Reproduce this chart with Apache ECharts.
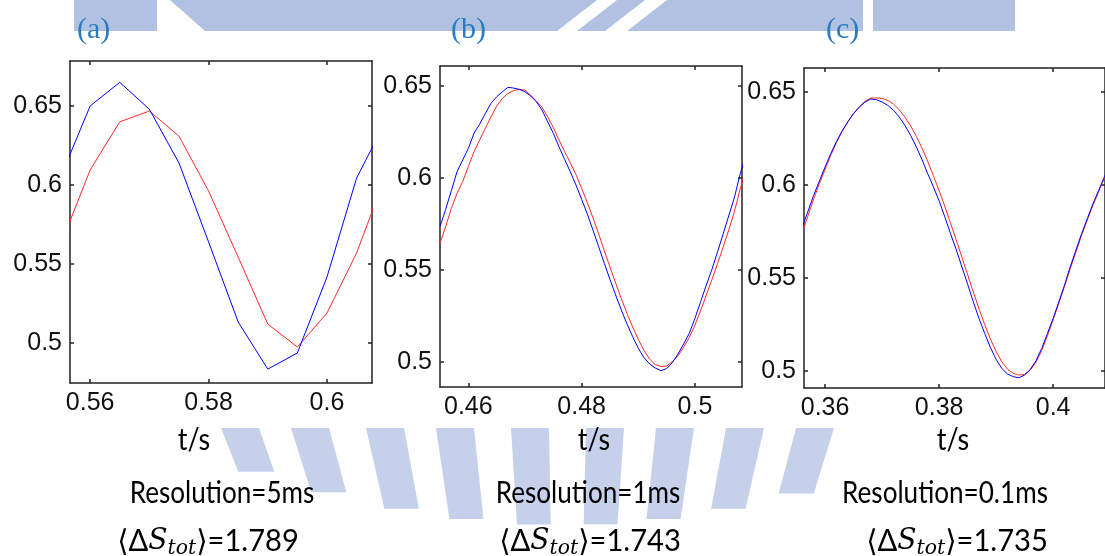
<!DOCTYPE html>
<html><head><meta charset="utf-8">
<script src="https://cdn.jsdelivr.net/npm/echarts@6/dist/echarts.min.js"></script>
<style>html,body{margin:0;padding:0;background:#fff}#c{width:1105px;height:556px}</style>
</head><body><div id="c"></div>
<script>
// ---------- data ----------
const panelLabels = ['(a)', '(b)', '(c)'];
const xName = 't/s';
const resolutions = ['Resolution=5ms', 'Resolution=1ms', 'Resolution=0.1ms'];
const entropyValues = ['1.789', '1.743', '1.735'];
const yTicks = [0.5, 0.55, 0.6, 0.65];
const xTicksA = [0.56, 0.58, 0.6];
const xTicksB = [0.46, 0.48, 0.5];
const xTicksC = [0.36, 0.38, 0.4];

const tA = [0.555, 0.56, 0.565, 0.57, 0.575, 0.58, 0.585, 0.59, 0.595, 0.6, 0.605, 0.61];
const blueA = [0.605, 0.650, 0.665, 0.648, 0.614, 0.564, 0.5133, 0.4835, 0.4937, 0.5418, 0.6044, 0.641];
const redA = [0.562, 0.6095, 0.640, 0.6468, 0.631, 0.5962, 0.5544, 0.512, 0.4975, 0.519, 0.557, 0.607];

const tB = [0.455,0.456,0.457,0.458,0.459,0.460,0.461,0.462,0.463,0.464,0.465,0.466,0.467,0.468,0.469,0.470,0.471,0.472,0.473,0.474,0.475,0.476,0.477,0.478,0.479,0.480,0.481,0.482,0.483,0.484,0.485,0.486,0.487,0.488,0.489,0.490,0.491,0.492,0.493,0.494,0.495,0.496,0.497,0.498,0.499,0.500,0.501,0.502,0.503,0.504,0.505,0.506,0.507,0.508,0.509];
const blueB = [0.5736,0.5830,0.5931,0.6034,0.6098,0.6161,0.6243,0.6293,0.6351,0.6406,0.6442,0.6469,0.6493,0.6489,0.6482,0.6469,0.6446,0.6415,0.6370,0.6306,0.6243,0.6170,0.6101,0.6034,0.5962,0.5884,0.5804,0.5717,0.5627,0.5536,0.5449,0.5364,0.5283,0.5207,0.5138,0.5074,0.5024,0.4989,0.4967,0.4953,0.4964,0.4996,0.5043,0.5098,0.5156,0.5237,0.5328,0.5418,0.5504,0.5600,0.5699,0.5799,0.5899,0.6025,0.6125];
const redB = [0.5645,0.5736,0.5835,0.5917,0.5980,0.6062,0.6143,0.6207,0.6270,0.6333,0.6391,0.6433,0.6460,0.6475,0.6482,0.6478,0.6451,0.6418,0.6384,0.6333,0.6274,0.6207,0.6143,0.6083,0.6018,0.5944,0.5866,0.5784,0.5696,0.5605,0.5516,0.5429,0.5344,0.5264,0.5190,0.5123,0.5063,0.5016,0.4986,0.4975,0.4978,0.5002,0.5033,0.5080,0.5134,0.5201,0.5279,0.5364,0.5449,0.5536,0.5627,0.5721,0.5822,0.5944,0.6043];

const tC = [0.356,0.357,0.358,0.359,0.360,0.361,0.362,0.363,0.364,0.365,0.366,0.367,0.368,0.369,0.370,0.371,0.372,0.373,0.374,0.375,0.376,0.377,0.378,0.379,0.380,0.381,0.382,0.383,0.384,0.385,0.386,0.387,0.388,0.389,0.390,0.391,0.392,0.393,0.394,0.395,0.396,0.397,0.398,0.399,0.400,0.401,0.402,0.403,0.404,0.405,0.406,0.407,0.408,0.409,0.410];
const blueC = [0.5775,0.5859,0.5945,0.6022,0.6097,0.6169,0.6235,0.6291,0.6341,0.6384,0.6419,0.6446,0.6462,0.6459,0.6446,0.6428,0.6402,0.6366,0.6321,0.6267,0.6205,0.6137,0.6061,0.5990,0.5915,0.5829,0.5739,0.5653,0.5560,0.5467,0.5372,0.5283,0.5202,0.5127,0.5063,0.5014,0.4984,0.4970,0.4964,0.4979,0.5009,0.5056,0.5122,0.5202,0.5283,0.5372,0.5462,0.5560,0.5650,0.5739,0.5820,0.5900,0.5972,0.6044,0.6115];
const redC = [0.5745,0.5835,0.5925,0.6008,0.6085,0.6160,0.6228,0.6288,0.6340,0.6385,0.6420,0.6450,0.6467,0.6468,0.6466,0.6455,0.6435,0.6405,0.6365,0.6318,0.6262,0.6198,0.6127,0.6050,0.5970,0.5885,0.5795,0.5705,0.5612,0.5518,0.5425,0.5335,0.5250,0.5172,0.5105,0.5050,0.5010,0.4988,0.4979,0.4982,0.5005,0.5048,0.5110,0.5190,0.5275,0.5365,0.5455,0.5550,0.5640,0.5730,0.5812,0.5892,0.5965,0.6038,0.6110];

// ---------- layout ----------
const panels = [
  {grid:{left:70, top:61, width:302, height:322}, x:[0.5566,0.6076], y:[0.4747,0.6785], xt:xTicksA, t:tA, b:blueA, r:redA},
  {grid:{left:440, top:66, width:302, height:321}, x:[0.4550,0.5083], y:[0.4864,0.6609], xt:xTicksB, t:tB, b:blueB, r:redB},
  {grid:{left:804, top:68, width:302, height:320}, x:[0.3563,0.4091], y:[0.4909,0.6629], xt:xTicksC, t:tC, b:blueC, r:redC}
];
const axisColor = '#222';
const fmt = v => String(parseFloat((+v).toFixed(4)));
const lineS = {color:axisColor, width:1.5};
const tickFont = 'Liberation Sans, Arial, sans-serif';

const grids=[], xAxes=[], yAxes=[], series=[];
panels.forEach((p,i)=>{
  grids.push(p.grid);
  const base = {gridIndex:i, type:'value', min:p.x[0], max:p.x[1], splitLine:{show:false},
    axisLine:{show:true, onZero:false, lineStyle:lineS}};
  xAxes.push(Object.assign({}, base, {position:'bottom',
    axisTick:{show:true, inside:true, length:4, customValues:p.xt, lineStyle:lineS},
    axisLabel:{show:true, customValues:p.xt, formatter:fmt, fontSize:25, fontFamily:tickFont, color:'#111', margin:8}}));
  xAxes.push(Object.assign({}, base, {position:'top',
    axisTick:{show:true, inside:true, length:4, customValues:p.xt, lineStyle:lineS},
    axisLabel:{show:false}}));
  const ybase = {gridIndex:i, type:'value', min:p.y[0], max:p.y[1], splitLine:{show:false},
    axisLine:{show:true, onZero:false, lineStyle:lineS}};
  yAxes.push(Object.assign({}, ybase, {position:'left',
    axisTick:{show:true, inside:true, length:4, customValues:yTicks, lineStyle:lineS},
    axisLabel:{show:true, customValues:yTicks, formatter:fmt, fontSize:25, fontFamily:tickFont, color:'#111', margin:8}}));
  yAxes.push(Object.assign({}, ybase, {position:'right',
    axisTick:{show:true, inside:true, length:4, customValues:yTicks, lineStyle:lineS},
    axisLabel:{show:false}}));
  series.push({type:'line', xAxisIndex:2*i, yAxisIndex:2*i, showSymbol:false, clip:true, z:3,
    lineStyle:{color:'#ff2a2a', width:1}, itemStyle:{color:'#ff2a2a'},
    data:p.t.map((t,k)=>[t,p.r[k]])});
  series.push({type:'line', xAxisIndex:2*i, yAxisIndex:2*i, showSymbol:false, clip:true, z:4,
    lineStyle:{color:'#0000ff', width:1}, itemStyle:{color:'#0000ff'},
    data:p.t.map((t,k)=>[t,p.b[k]])});
});

// ---------- decorations (background watermark + captions) ----------
const wm = '#b1c1e1';
const wm2 = '#c6d0ea';
const graphics = [
  {type:'rect', z:-10, shape:{x:74, y:0, width:941, height:31}, style:{fill:wm}},
  {type:'polygon', z:-9, shape:{points:[[157,0],[170,0],[205,31],[157,31]]}, style:{fill:'#ffffff'}},
  {type:'polygon', z:-9, shape:{points:[[597,0],[617,0],[577,31],[557,31]]}, style:{fill:'#ffffff'}},
  {type:'polygon', z:-9, shape:{points:[[645,0],[667,0],[627,31],[605,31]]}, style:{fill:'#ffffff'}},
  {type:'rect', z:-9, shape:{x:863, y:0, width:10, height:31}, style:{fill:'#ffffff'}}
];
// faint fan of bars of the background emblem, below the plots
const fanTop = [240, 310, 385, 455, 530, 605, 675, 745, 815];
const focus = [565, 1300];
fanTop.forEach(x0=>{
  const w = 19, y0 = 428;
  const yb = 525 - 55 * Math.pow((x0 - 565) / 330, 2);
  const f = (yb - y0) / (focus[1] - y0);
  const xl = x0 - w, xr = x0 + w;
  graphics.push({type:'polygon', z:-10, shape:{points:[[xl,y0],[xr,y0],[xr+(focus[0]-xr)*f,yb],[xl+(focus[0]-xl)*f,yb]]}, style:{fill:wm2}});
});

const capX = [[77,194,222,208],[451,594,588,590],[826,953,945,957]];
const capFont = 'Lato, "Noto Sans", sans-serif';
const sx = 0.87, sx2 = 0.97;
panels.forEach((p,i)=>{
  graphics.push({type:'text', z:10, x:capX[i][0], y:15, style:{text:panelLabels[i], font:'30px "Liberation Serif", "DejaVu Serif", serif', fill:'#2b7bc2'}});
  graphics.push({type:'text', z:10, x:capX[i][1], y:440, scaleX:sx, style:{x:0, y:0, text:xName, font:'31px ' + capFont, fill:'#000', textAlign:'center', textVerticalAlign:'middle'}});
  graphics.push({type:'text', z:10, x:capX[i][2], y:493, scaleX:sx, style:{x:0, y:0, text:resolutions[i], font:'30px ' + capFont, fill:'#000', textAlign:'center', textVerticalAlign:'middle'}});
  graphics.push({type:'text', z:10, x:capX[i][3], y:541, scaleX:sx2, style:{x:0, y:0,
    text:'{n|⟨Δ}{i|S}{s|tot}{n|⟩=' + entropyValues[i] + '}',
    textAlign:'center', textVerticalAlign:'middle',
    rich:{
      n:{fontFamily:'Lato, "DejaVu Sans", sans-serif', fontSize:30, color:'#000'},
      i:{fontFamily:'"DejaVu Serif", "Liberation Serif", serif', fontStyle:'italic', fontSize:29, color:'#000'},
      s:{fontFamily:'"DejaVu Serif", "Liberation Serif", serif', fontStyle:'italic', fontSize:21, color:'#000', padding:[15,0,0,0]}
    }}});
});

const chart = echarts.init(document.getElementById('c'), null, {renderer:'canvas'});
chart.setOption({
  animation:false,
  backgroundColor:'#ffffff',
  grid:grids, xAxis:xAxes, yAxis:yAxes, series:series,
  graphic:{elements:graphics}
});
</script></body></html>
